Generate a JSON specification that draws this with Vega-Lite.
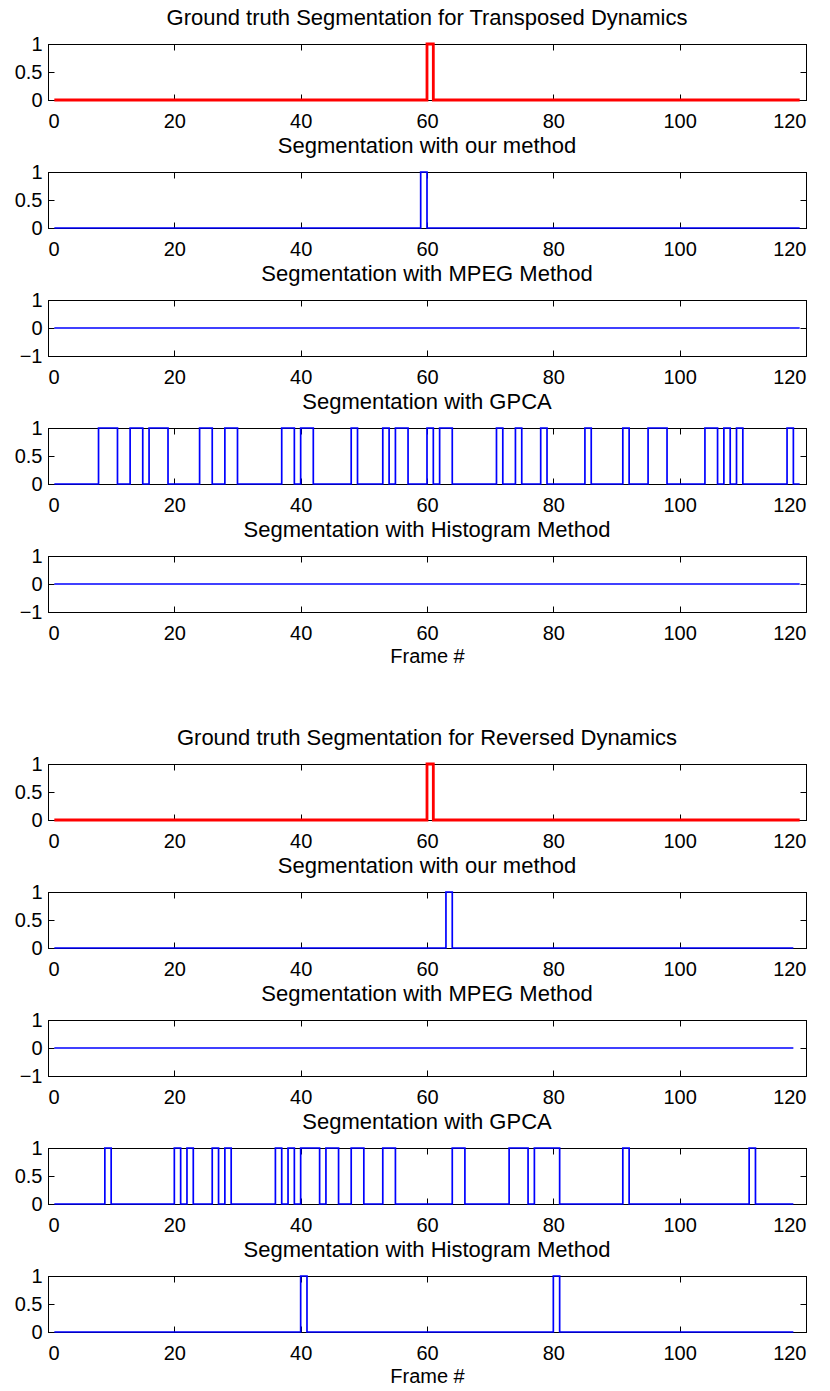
{
  "$schema": "https://vega.github.io/schema/vega-lite/v6.json",
  "autosize": {"type": "pad"},
  "padding": {"left": 13, "top": 6, "right": 5, "bottom": 0},
  "background": "white",
  "config": {
    "font": "Liberation Sans",
    "view": {"stroke": "black", "strokeWidth": 1},
    "axis": {
      "grid": false,
      "labelFont": "Liberation Sans",
      "labelFontSize": 20,
      "labelColor": "black",
      "domainColor": "black",
      "tickColor": "black",
      "tickSize": -6,
      "labelPadding": 17,
      "titleFont": "Liberation Sans",
      "titleFontSize": 20,
      "titleFontWeight": "normal",
      "titleColor": "black"
    },
    "axisY": {"labelPadding": 12},
    "title": {
      "font": "Liberation Sans",
      "fontSize": 22,
      "fontWeight": "normal",
      "color": "black",
      "anchor": "middle",
      "frame": "group",
      "baseline": "alphabetic",
      "offset": 4
    },
    "line": {"interpolate": "step-after", "strokeCap": "butt", "strokeJoin": "miter"}
  },
  "data": {
    "values": [
      {"panel": "tr_truth", "frame": 1, "value": 0},
      {"panel": "tr_truth", "frame": 60, "value": 1},
      {"panel": "tr_truth", "frame": 61, "value": 0},
      {"panel": "tr_truth", "frame": 119, "value": 0},

      {"panel": "tr_ours", "frame": 1, "value": 0},
      {"panel": "tr_ours", "frame": 59, "value": 1},
      {"panel": "tr_ours", "frame": 60, "value": 0},
      {"panel": "tr_ours", "frame": 119, "value": 0},

      {"panel": "tr_mpeg", "frame": 1, "value": 0},
      {"panel": "tr_mpeg", "frame": 119, "value": 0},

      {"panel": "tr_gpca", "frame": 1, "value": 0},
      {"panel": "tr_gpca", "frame": 8, "value": 1},
      {"panel": "tr_gpca", "frame": 11, "value": 0},
      {"panel": "tr_gpca", "frame": 13, "value": 1},
      {"panel": "tr_gpca", "frame": 15, "value": 0},
      {"panel": "tr_gpca", "frame": 16, "value": 1},
      {"panel": "tr_gpca", "frame": 19, "value": 0},
      {"panel": "tr_gpca", "frame": 24, "value": 1},
      {"panel": "tr_gpca", "frame": 26, "value": 0},
      {"panel": "tr_gpca", "frame": 28, "value": 1},
      {"panel": "tr_gpca", "frame": 30, "value": 0},
      {"panel": "tr_gpca", "frame": 37, "value": 1},
      {"panel": "tr_gpca", "frame": 39, "value": 0},
      {"panel": "tr_gpca", "frame": 40, "value": 1},
      {"panel": "tr_gpca", "frame": 42, "value": 0},
      {"panel": "tr_gpca", "frame": 48, "value": 1},
      {"panel": "tr_gpca", "frame": 49, "value": 0},
      {"panel": "tr_gpca", "frame": 53, "value": 1},
      {"panel": "tr_gpca", "frame": 54, "value": 0},
      {"panel": "tr_gpca", "frame": 55, "value": 1},
      {"panel": "tr_gpca", "frame": 57, "value": 0},
      {"panel": "tr_gpca", "frame": 60, "value": 1},
      {"panel": "tr_gpca", "frame": 61, "value": 0},
      {"panel": "tr_gpca", "frame": 62, "value": 1},
      {"panel": "tr_gpca", "frame": 64, "value": 0},
      {"panel": "tr_gpca", "frame": 71, "value": 1},
      {"panel": "tr_gpca", "frame": 72, "value": 0},
      {"panel": "tr_gpca", "frame": 74, "value": 1},
      {"panel": "tr_gpca", "frame": 75, "value": 0},
      {"panel": "tr_gpca", "frame": 78, "value": 1},
      {"panel": "tr_gpca", "frame": 79, "value": 0},
      {"panel": "tr_gpca", "frame": 85, "value": 1},
      {"panel": "tr_gpca", "frame": 86, "value": 0},
      {"panel": "tr_gpca", "frame": 91, "value": 1},
      {"panel": "tr_gpca", "frame": 92, "value": 0},
      {"panel": "tr_gpca", "frame": 95, "value": 1},
      {"panel": "tr_gpca", "frame": 98, "value": 0},
      {"panel": "tr_gpca", "frame": 104, "value": 1},
      {"panel": "tr_gpca", "frame": 106, "value": 0},
      {"panel": "tr_gpca", "frame": 107, "value": 1},
      {"panel": "tr_gpca", "frame": 108, "value": 0},
      {"panel": "tr_gpca", "frame": 109, "value": 1},
      {"panel": "tr_gpca", "frame": 110, "value": 0},
      {"panel": "tr_gpca", "frame": 117, "value": 1},
      {"panel": "tr_gpca", "frame": 118, "value": 0},
      {"panel": "tr_gpca", "frame": 119, "value": 0},

      {"panel": "tr_hist", "frame": 1, "value": 0},
      {"panel": "tr_hist", "frame": 119, "value": 0},

      {"panel": "rv_truth", "frame": 1, "value": 0},
      {"panel": "rv_truth", "frame": 60, "value": 1},
      {"panel": "rv_truth", "frame": 61, "value": 0},
      {"panel": "rv_truth", "frame": 119, "value": 0},

      {"panel": "rv_ours", "frame": 1, "value": 0},
      {"panel": "rv_ours", "frame": 63, "value": 1},
      {"panel": "rv_ours", "frame": 64, "value": 0},
      {"panel": "rv_ours", "frame": 118, "value": 0},

      {"panel": "rv_mpeg", "frame": 1, "value": 0},
      {"panel": "rv_mpeg", "frame": 118, "value": 0},

      {"panel": "rv_gpca", "frame": 1, "value": 0},
      {"panel": "rv_gpca", "frame": 9, "value": 1},
      {"panel": "rv_gpca", "frame": 10, "value": 0},
      {"panel": "rv_gpca", "frame": 20, "value": 1},
      {"panel": "rv_gpca", "frame": 21, "value": 0},
      {"panel": "rv_gpca", "frame": 22, "value": 1},
      {"panel": "rv_gpca", "frame": 23, "value": 0},
      {"panel": "rv_gpca", "frame": 26, "value": 1},
      {"panel": "rv_gpca", "frame": 27, "value": 0},
      {"panel": "rv_gpca", "frame": 28, "value": 1},
      {"panel": "rv_gpca", "frame": 29, "value": 0},
      {"panel": "rv_gpca", "frame": 36, "value": 1},
      {"panel": "rv_gpca", "frame": 37, "value": 0},
      {"panel": "rv_gpca", "frame": 38, "value": 1},
      {"panel": "rv_gpca", "frame": 39, "value": 0},
      {"panel": "rv_gpca", "frame": 40, "value": 1},
      {"panel": "rv_gpca", "frame": 43, "value": 0},
      {"panel": "rv_gpca", "frame": 44, "value": 1},
      {"panel": "rv_gpca", "frame": 46, "value": 0},
      {"panel": "rv_gpca", "frame": 48, "value": 1},
      {"panel": "rv_gpca", "frame": 50, "value": 0},
      {"panel": "rv_gpca", "frame": 53, "value": 1},
      {"panel": "rv_gpca", "frame": 55, "value": 0},
      {"panel": "rv_gpca", "frame": 64, "value": 1},
      {"panel": "rv_gpca", "frame": 66, "value": 0},
      {"panel": "rv_gpca", "frame": 73, "value": 1},
      {"panel": "rv_gpca", "frame": 76, "value": 0},
      {"panel": "rv_gpca", "frame": 77, "value": 1},
      {"panel": "rv_gpca", "frame": 81, "value": 0},
      {"panel": "rv_gpca", "frame": 91, "value": 1},
      {"panel": "rv_gpca", "frame": 92, "value": 0},
      {"panel": "rv_gpca", "frame": 111, "value": 1},
      {"panel": "rv_gpca", "frame": 112, "value": 0},
      {"panel": "rv_gpca", "frame": 118, "value": 0},

      {"panel": "rv_hist", "frame": 1, "value": 0},
      {"panel": "rv_hist", "frame": 40, "value": 1},
      {"panel": "rv_hist", "frame": 41, "value": 0},
      {"panel": "rv_hist", "frame": 80, "value": 1},
      {"panel": "rv_hist", "frame": 81, "value": 0},
      {"panel": "rv_hist", "frame": 118, "value": 0}
    ]
  },
  "spacing": 59,
  "vconcat": [
    {
      "bounds": "flush",
      "spacing": 72,
      "vconcat": [
        {
          "title": "Ground truth Segmentation for Transposed Dynamics",
          "width": 758, "height": 56,
          "transform": [{"filter": "datum.panel === 'tr_truth'"}],
          "resolve": {"axis": {"x": "independent", "y": "independent"}},
          "layer": [
            {"mark": {"type": "line", "color": "#ff0000", "strokeWidth": 2.8},
             "encoding": {
               "x": {"field": "frame", "type": "quantitative", "scale": {"domain": [0, 120]}, "axis": {"values": [0, 20, 40, 60, 80, 100, 120], "title": null}},
               "y": {"field": "value", "type": "quantitative", "scale": {"domain": [0, 1]}, "axis": {"values": [0, 0.5, 1], "format": "~g", "title": null}}}},
            {"mark": {"type": "line", "opacity": 0},
             "encoding": {
               "x": {"field": "frame", "type": "quantitative", "axis": {"orient": "top", "values": [0, 20, 40, 60, 80, 100, 120], "labels": false, "title": null}},
               "y": {"field": "value", "type": "quantitative", "axis": {"orient": "right", "values": [0, 0.5, 1], "labels": false, "title": null}}}}
          ]
        },
        {
          "title": "Segmentation with our method",
          "width": 758, "height": 56,
          "transform": [{"filter": "datum.panel === 'tr_ours'"}],
          "resolve": {"axis": {"x": "independent", "y": "independent"}},
          "layer": [
            {"mark": {"type": "line", "color": "#0000ff", "strokeWidth": 1.7},
             "encoding": {
               "x": {"field": "frame", "type": "quantitative", "scale": {"domain": [0, 120]}, "axis": {"values": [0, 20, 40, 60, 80, 100, 120], "title": null}},
               "y": {"field": "value", "type": "quantitative", "scale": {"domain": [0, 1]}, "axis": {"values": [0, 0.5, 1], "format": "~g", "title": null}}}},
            {"mark": {"type": "line", "opacity": 0},
             "encoding": {
               "x": {"field": "frame", "type": "quantitative", "axis": {"orient": "top", "values": [0, 20, 40, 60, 80, 100, 120], "labels": false, "title": null}},
               "y": {"field": "value", "type": "quantitative", "axis": {"orient": "right", "values": [0, 0.5, 1], "labels": false, "title": null}}}}
          ]
        },
        {
          "title": "Segmentation with MPEG Method",
          "width": 758, "height": 56,
          "transform": [{"filter": "datum.panel === 'tr_mpeg'"}],
          "resolve": {"axis": {"x": "independent", "y": "independent"}},
          "layer": [
            {"mark": {"type": "line", "color": "#0000ff", "strokeWidth": 1.7},
             "encoding": {
               "x": {"field": "frame", "type": "quantitative", "scale": {"domain": [0, 120]}, "axis": {"values": [0, 20, 40, 60, 80, 100, 120], "title": null}},
               "y": {"field": "value", "type": "quantitative", "scale": {"domain": [-1, 1]}, "axis": {"values": [-1, 0, 1], "format": "~g", "title": null}}}},
            {"mark": {"type": "line", "opacity": 0},
             "encoding": {
               "x": {"field": "frame", "type": "quantitative", "axis": {"orient": "top", "values": [0, 20, 40, 60, 80, 100, 120], "labels": false, "title": null}},
               "y": {"field": "value", "type": "quantitative", "axis": {"orient": "right", "values": [-1, 0, 1], "labels": false, "title": null}}}}
          ]
        },
        {
          "title": "Segmentation with GPCA",
          "width": 758, "height": 56,
          "transform": [{"filter": "datum.panel === 'tr_gpca'"}],
          "resolve": {"axis": {"x": "independent", "y": "independent"}},
          "layer": [
            {"mark": {"type": "line", "color": "#0000ff", "strokeWidth": 1.7},
             "encoding": {
               "x": {"field": "frame", "type": "quantitative", "scale": {"domain": [0, 120]}, "axis": {"values": [0, 20, 40, 60, 80, 100, 120], "title": null}},
               "y": {"field": "value", "type": "quantitative", "scale": {"domain": [0, 1]}, "axis": {"values": [0, 0.5, 1], "format": "~g", "title": null}}}},
            {"mark": {"type": "line", "opacity": 0},
             "encoding": {
               "x": {"field": "frame", "type": "quantitative", "axis": {"orient": "top", "values": [0, 20, 40, 60, 80, 100, 120], "labels": false, "title": null}},
               "y": {"field": "value", "type": "quantitative", "axis": {"orient": "right", "values": [0, 0.5, 1], "labels": false, "title": null}}}}
          ]
        },
        {
          "title": "Segmentation with Histogram Method",
          "width": 758, "height": 56,
          "transform": [{"filter": "datum.panel === 'tr_hist'"}],
          "resolve": {"axis": {"x": "independent", "y": "independent"}},
          "layer": [
            {"mark": {"type": "line", "color": "#0000ff", "strokeWidth": 1.7},
             "encoding": {
               "x": {"field": "frame", "type": "quantitative", "scale": {"domain": [0, 120]}, "axis": {"values": [0, 20, 40, 60, 80, 100, 120], "title": "Frame #", "titlePadding": 3}},
               "y": {"field": "value", "type": "quantitative", "scale": {"domain": [-1, 1]}, "axis": {"values": [-1, 0, 1], "format": "~g", "title": null}}}},
            {"mark": {"type": "line", "opacity": 0},
             "encoding": {
               "x": {"field": "frame", "type": "quantitative", "axis": {"orient": "top", "values": [0, 20, 40, 60, 80, 100, 120], "labels": false, "title": null}},
               "y": {"field": "value", "type": "quantitative", "axis": {"orient": "right", "values": [-1, 0, 1], "labels": false, "title": null}}}}
          ]
        }
      ]
    },
    {
      "bounds": "flush",
      "spacing": 72,
      "vconcat": [
        {
          "title": "Ground truth Segmentation for Reversed Dynamics",
          "width": 758, "height": 56,
          "transform": [{"filter": "datum.panel === 'rv_truth'"}],
          "resolve": {"axis": {"x": "independent", "y": "independent"}},
          "layer": [
            {"mark": {"type": "line", "color": "#ff0000", "strokeWidth": 2.8},
             "encoding": {
               "x": {"field": "frame", "type": "quantitative", "scale": {"domain": [0, 120]}, "axis": {"values": [0, 20, 40, 60, 80, 100, 120], "title": null}},
               "y": {"field": "value", "type": "quantitative", "scale": {"domain": [0, 1]}, "axis": {"values": [0, 0.5, 1], "format": "~g", "title": null}}}},
            {"mark": {"type": "line", "opacity": 0},
             "encoding": {
               "x": {"field": "frame", "type": "quantitative", "axis": {"orient": "top", "values": [0, 20, 40, 60, 80, 100, 120], "labels": false, "title": null}},
               "y": {"field": "value", "type": "quantitative", "axis": {"orient": "right", "values": [0, 0.5, 1], "labels": false, "title": null}}}}
          ]
        },
        {
          "title": "Segmentation with our method",
          "width": 758, "height": 56,
          "transform": [{"filter": "datum.panel === 'rv_ours'"}],
          "resolve": {"axis": {"x": "independent", "y": "independent"}},
          "layer": [
            {"mark": {"type": "line", "color": "#0000ff", "strokeWidth": 1.7},
             "encoding": {
               "x": {"field": "frame", "type": "quantitative", "scale": {"domain": [0, 120]}, "axis": {"values": [0, 20, 40, 60, 80, 100, 120], "title": null}},
               "y": {"field": "value", "type": "quantitative", "scale": {"domain": [0, 1]}, "axis": {"values": [0, 0.5, 1], "format": "~g", "title": null}}}},
            {"mark": {"type": "line", "opacity": 0},
             "encoding": {
               "x": {"field": "frame", "type": "quantitative", "axis": {"orient": "top", "values": [0, 20, 40, 60, 80, 100, 120], "labels": false, "title": null}},
               "y": {"field": "value", "type": "quantitative", "axis": {"orient": "right", "values": [0, 0.5, 1], "labels": false, "title": null}}}}
          ]
        },
        {
          "title": "Segmentation with MPEG Method",
          "width": 758, "height": 56,
          "transform": [{"filter": "datum.panel === 'rv_mpeg'"}],
          "resolve": {"axis": {"x": "independent", "y": "independent"}},
          "layer": [
            {"mark": {"type": "line", "color": "#0000ff", "strokeWidth": 1.7},
             "encoding": {
               "x": {"field": "frame", "type": "quantitative", "scale": {"domain": [0, 120]}, "axis": {"values": [0, 20, 40, 60, 80, 100, 120], "title": null}},
               "y": {"field": "value", "type": "quantitative", "scale": {"domain": [-1, 1]}, "axis": {"values": [-1, 0, 1], "format": "~g", "title": null}}}},
            {"mark": {"type": "line", "opacity": 0},
             "encoding": {
               "x": {"field": "frame", "type": "quantitative", "axis": {"orient": "top", "values": [0, 20, 40, 60, 80, 100, 120], "labels": false, "title": null}},
               "y": {"field": "value", "type": "quantitative", "axis": {"orient": "right", "values": [-1, 0, 1], "labels": false, "title": null}}}}
          ]
        },
        {
          "title": "Segmentation with GPCA",
          "width": 758, "height": 56,
          "transform": [{"filter": "datum.panel === 'rv_gpca'"}],
          "resolve": {"axis": {"x": "independent", "y": "independent"}},
          "layer": [
            {"mark": {"type": "line", "color": "#0000ff", "strokeWidth": 1.7},
             "encoding": {
               "x": {"field": "frame", "type": "quantitative", "scale": {"domain": [0, 120]}, "axis": {"values": [0, 20, 40, 60, 80, 100, 120], "title": null}},
               "y": {"field": "value", "type": "quantitative", "scale": {"domain": [0, 1]}, "axis": {"values": [0, 0.5, 1], "format": "~g", "title": null}}}},
            {"mark": {"type": "line", "opacity": 0},
             "encoding": {
               "x": {"field": "frame", "type": "quantitative", "axis": {"orient": "top", "values": [0, 20, 40, 60, 80, 100, 120], "labels": false, "title": null}},
               "y": {"field": "value", "type": "quantitative", "axis": {"orient": "right", "values": [0, 0.5, 1], "labels": false, "title": null}}}}
          ]
        },
        {
          "title": "Segmentation with Histogram Method",
          "width": 758, "height": 56,
          "transform": [{"filter": "datum.panel === 'rv_hist'"}],
          "resolve": {"axis": {"x": "independent", "y": "independent"}},
          "layer": [
            {"mark": {"type": "line", "color": "#0000ff", "strokeWidth": 1.7},
             "encoding": {
               "x": {"field": "frame", "type": "quantitative", "scale": {"domain": [0, 120]}, "axis": {"values": [0, 20, 40, 60, 80, 100, 120], "title": "Frame #", "titlePadding": 3}},
               "y": {"field": "value", "type": "quantitative", "scale": {"domain": [0, 1]}, "axis": {"values": [0, 0.5, 1], "format": "~g", "title": null}}}},
            {"mark": {"type": "line", "opacity": 0},
             "encoding": {
               "x": {"field": "frame", "type": "quantitative", "axis": {"orient": "top", "values": [0, 20, 40, 60, 80, 100, 120], "labels": false, "title": null}},
               "y": {"field": "value", "type": "quantitative", "axis": {"orient": "right", "values": [0, 0.5, 1], "labels": false, "title": null}}}}
          ]
        }
      ]
    }
  ]
}
